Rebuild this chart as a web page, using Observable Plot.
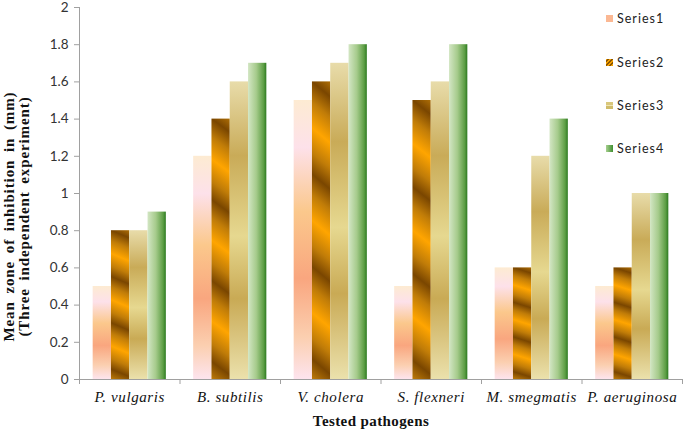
<!DOCTYPE html>
<html><head><meta charset="utf-8">
<script src="https://cdn.jsdelivr.net/npm/d3@7"></script>
<script src="https://cdn.jsdelivr.net/npm/@observablehq/plot@0.6"></script>
<style>
body{margin:0;background:#fff;}
#wrap{position:relative;width:685px;height:430px;overflow:hidden;}
#legend{position:absolute;left:0;top:0;font-family:Lato,sans-serif;font-size:12.5px;color:#222;letter-spacing:1px;}
.item{position:absolute;left:606px;white-space:nowrap;display:flex;align-items:center;height:14px;}
.sw{width:7px;height:7px;margin-right:4px;flex:none;}
g[aria-description="ytitle"] text{letter-spacing:0.9px;word-spacing:3px;}
g[aria-description="xtitle"] text{letter-spacing:0.4px;}
g[aria-description="catlabels"] text{letter-spacing:0.6px;}
</style></head>
<body>
<div id="wrap">
<svg width="0" height="0" style="position:absolute">
<defs>
<linearGradient id="g1" x1="0" y1="0" x2="0" y2="1">
<stop offset="0" stop-color="#fdebd2"/>
<stop offset="0.17" stop-color="#fde1ea"/>
<stop offset="0.4" stop-color="#fbc88c"/>
<stop offset="0.64" stop-color="#f9a67f"/>
<stop offset="0.85" stop-color="#fbcfb0"/>
<stop offset="1" stop-color="#fde4ee"/>
</linearGradient>
<linearGradient id="g2" x1="0" y1="0" x2="-0.008" y2="0.155" spreadMethod="reflect">
<stop offset="0" stop-color="#7a4600"/>
<stop offset="0.45" stop-color="#c07c08"/>
<stop offset="1" stop-color="#ffa500"/>
</linearGradient>
<linearGradient id="g3" x1="0" y1="0" x2="0" y2="1">
<stop offset="0" stop-color="#e8dcaa"/>
<stop offset="0.25" stop-color="#c9ab58"/>
<stop offset="0.52" stop-color="#e6d890"/>
<stop offset="0.73" stop-color="#c9aa55"/>
<stop offset="1" stop-color="#ebe1ac"/>
</linearGradient>
<linearGradient id="g4" x1="0" y1="0" x2="1" y2="0">
<stop offset="0" stop-color="#d3e6c4"/>
<stop offset="0.45" stop-color="#a6cb8c"/>
<stop offset="0.85" stop-color="#5d9e45"/>
<stop offset="1" stop-color="#2c7a20"/>
</linearGradient>
</defs>
</svg>
<div id="chart"></div>
<div id="legend"></div>
</div>
<script>
const categories = ["P. vulgaris", "B. subtilis", "V. cholera", "S. flexneri", "M. smegmatis", "P. aeruginosa"];
const seriesNames = ["Series1", "Series2", "Series3", "Series4"];
const series1 = [0.5, 1.2, 1.5, 0.5, 0.6, 0.5];
const series2 = [0.8, 1.4, 1.6, 1.5, 0.6, 0.6];
const series3 = [0.8, 1.6, 1.7, 1.6, 1.2, 1.0];
const series4 = [0.9, 1.7, 1.8, 1.8, 1.4, 1.0];
const yTicks = [0, 0.2, 0.4, 0.6, 0.8, 1, 1.2, 1.4, 1.6, 1.8, 2];
const yTitle = "Mean zone of inhibition in (mm)\n(Three independent experiment)";
const xTitle = "Tested pathogens";

const fills = ["url(#g1)", "url(#g2)", "url(#g3)", "url(#g4)"];
const allSeries = [series1, series2, series3, series4];
const rows = [];
categories.forEach((c, i) => allSeries.forEach((s, j) => rows.push({i, j, cat: c, series: seriesNames[j], value: s[i]})));

const OFF = 0.136, BW = 0.182;
const boundaries = categories.map((c, i) => i).concat([categories.length]);
const centers = categories.map((c, i) => i + 0.5);

const chart = Plot.plot({
  width: 685, height: 430,
  marginLeft: 79, marginRight: 3, marginTop: 7, marginBottom: 51,
  style: {fontFamily: "Lato, sans-serif", fontSize: "13.5px", color: "#333", background: "transparent"},
  x: {domain: [0, categories.length]},
  y: {domain: [0, 2]},
  color: {domain: seriesNames, range: fills},
  marks: [
    Plot.rectY(rows, {x1: d => d.i + OFF + d.j * BW, x2: d => d.i + OFF + (d.j + 1) * BW, y1: 0, y2: "value", fill: "series"}),
    Plot.ruleX([0], {stroke: "#a0a0a0"}),
    Plot.ruleY([0], {stroke: "#a0a0a0"}),
    Plot.axisY({ticks: yTicks, tickSize: 5, tickPadding: 6, stroke: "#a0a0a0", fill: "#333", tickFormat: d => String(+d.toFixed(1)), label: null, fontSize: 13.5}),
    Plot.axisX({ticks: boundaries, tickSize: 5, tickFormat: () => "", stroke: "#a0a0a0", label: null}),
    Plot.axisX({ticks: centers, tickSize: 0, tickPadding: 12, tickFormat: d => categories[Math.floor(d)], label: null, fill: "#111",
      fontFamily: "Liberation Serif, serif", fontStyle: "italic", fontSize: 15, ariaDescription: "catlabels"}),
    Plot.text([xTitle], {text: d => d, frameAnchor: "bottom", textAnchor: "middle", lineAnchor: "middle", dy: 42, dx: -10,
      fontFamily: "Liberation Serif, serif", fontWeight: "bold", fontSize: 15, fill: "#111", ariaDescription: "xtitle"}),
    Plot.text([yTitle], {text: d => d, frameAnchor: "left", textAnchor: "middle", lineAnchor: "middle", rotate: -90, dx: -62.5, dy: 23,
      lineHeight: 0.95, fontFamily: "Liberation Serif, serif", fontWeight: "bold", fontSize: 15, fill: "#111", ariaDescription: "ytitle"})
  ]
});
document.getElementById("chart").appendChild(chart);

const swatches = [
  "background:#fbb893;",
  "background:repeating-linear-gradient(-45deg,#f5a000 0 1.5px,#8a5500 1.5px 3px);",
  "background:linear-gradient(#d9c77c 0 40%,#efe4b4 40% 60%,#d0bc6a 60%);",
  "background:linear-gradient(90deg,#a8d090,#3f8f30);"
];
const legendY = [18, 62, 105, 148];
const legend = document.getElementById("legend");
seriesNames.forEach((s, j) => {
  const it = document.createElement("div");
  it.className = "item";
  it.style.top = (legendY[j] - 7) + "px";
  it.innerHTML = `<span class="sw" style="${swatches[j]}"></span><span>${s}</span>`;
  legend.appendChild(it);
});
</script>
</body></html>
